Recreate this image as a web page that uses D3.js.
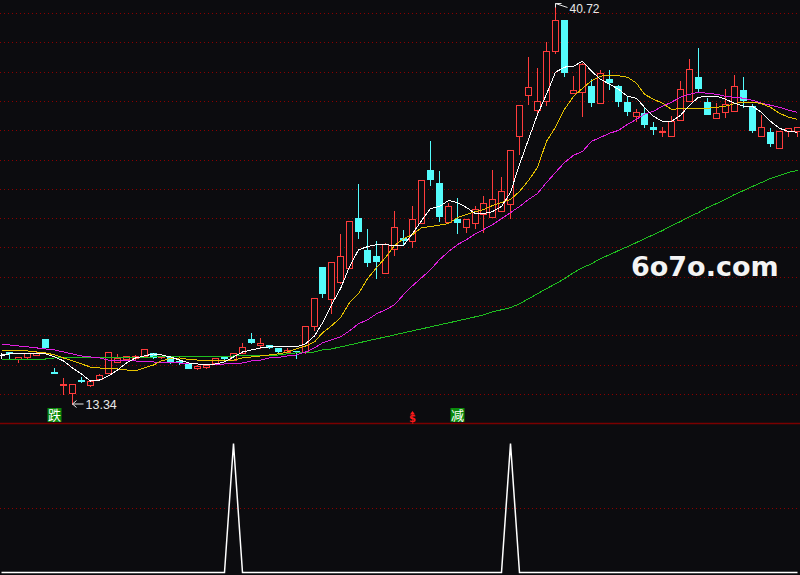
<!DOCTYPE html>
<meta charset="utf-8">
<head>
<title>K-line chart</title>
<script src="https://cdnjs.cloudflare.com/ajax/libs/d3/7.8.5/d3.min.js" charset="utf-8"></script>
<style type="text/css">
body {margin: 0; background: #0c0c0f;}
svg {display: block;}
</style>
</head>
<body>
<script>
// daily bars
var opens = [16.70,16.90,16.42,16.56,16.70,17.80,15.53,14.64,14.09,14.98,
  14.64,15.05,15.46,16.22,16.42,16.49,16.63,16.84,16.56,16.56,
  16.29,16.15,15.81,15.87,16.15,16.56,16.35,16.84,17.80,17.38,
  17.38,17.18,16.90,17.00,16.90,18.69,22.74,20.54,21.71,22.67,
  26.10,23.90,23.49,22.33,23.97,24.73,24.52,25.76,29.33,28.50,
  25.83,26.03,25.48,25.76,26.37,26.17,26.58,27.06,31.66,34.47,
  33.45,34.07,37.49,39.62,34.61,34.68,35.09,33.93,35.57,35.09,
  34.00,33.03,33.24,32.28,31.97,31.66,32.76,34.07,35.71,34.00,
  32.90,33.31,33.38,34.82,33.72,31.66,31.94,30.84,32.00,32.00];
var closes = [16.70,16.84,16.56,16.84,16.84,17.25,15.46,14.71,14.71,14.91,
  14.91,15.33,16.90,16.49,16.63,16.63,17.11,16.56,16.63,16.22,
  16.22,15.81,15.94,16.01,16.49,16.49,16.84,17.25,17.59,17.52,
  17.25,16.97,17.04,16.94,18.69,20.61,20.95,23.08,23.49,25.89,
  25.21,23.08,23.15,24.32,25.48,24.59,26.03,28.64,28.71,26.24,
  26.86,25.83,26.03,26.72,27.13,27.34,27.89,30.70,33.79,35.02,
  34.07,37.49,39.62,36.05,34.82,36.60,34.00,35.98,35.37,34.07,
  33.38,33.31,32.48,32.14,32.02,32.69,34.89,36.26,34.95,33.17,
  33.24,33.86,35.09,34.13,32.07,32.28,31.18,32.00,32.21,32.28];
var highs = [16.90,17.00,16.56,16.90,17.04,17.80,15.87,15.19,14.71,15.26,
  14.98,15.46,16.90,16.84,16.70,16.77,17.11,16.90,16.70,16.63,
  16.42,16.22,16.08,16.08,16.56,16.56,16.84,17.59,18.28,17.93,
  17.45,17.25,17.25,17.04,18.69,20.61,22.74,23.08,25.07,25.89,
  28.50,25.41,24.59,24.45,26.65,25.35,26.99,28.64,31.39,29.33,
  27.20,27.54,26.03,26.99,27.68,29.40,28.98,30.70,33.79,37.15,
  36.40,38.18,40.72,39.69,35.84,36.74,35.64,36.26,36.26,35.23,
  34.40,33.58,33.65,32.69,32.35,33.10,35.50,37.01,37.77,34.34,
  34.00,34.95,35.91,35.78,33.93,33.17,32.28,32.07,32.28,32.35];
var lows = [16.49,16.49,16.22,16.49,16.70,17.18,15.46,14.02,13.34,14.88,
  14.57,14.98,15.46,16.22,16.35,16.42,16.56,16.49,16.49,16.15,
  16.08,15.81,15.74,15.81,16.15,16.29,16.35,16.84,17.52,17.18,
  17.18,16.90,16.84,16.49,16.84,18.41,20.68,19.58,21.64,22.67,
  24.73,22.81,21.98,22.33,23.56,24.25,24.11,25.76,28.36,25.89,
  25.83,25.07,25.14,25.41,25.14,26.17,26.58,26.10,30.42,33.86,
  33.31,33.79,37.36,35.78,34.61,33.03,33.72,33.93,34.89,33.72,
  33.10,32.69,32.28,31.80,31.66,31.66,32.76,34.07,34.75,33.17,
  32.90,32.97,33.38,33.65,31.94,31.66,30.97,30.84,31.66,31.66];

// moving averages as drawn
var ma5 = [16.70,16.77,16.77,16.77,16.77,16.77,16.56,16.29,15.81,15.39,
  14.91,14.98,15.26,15.67,16.15,16.49,16.63,16.77,16.70,16.56,
  16.35,16.15,16.08,16.01,16.08,16.22,16.56,16.90,17.04,17.18,
  17.25,17.25,17.25,17.25,17.45,18.00,18.89,20.13,21.23,22.74,
  23.90,24.11,24.25,24.25,24.18,24.18,25.00,25.89,26.72,26.86,
  27.27,27.13,26.79,26.37,26.37,26.51,26.86,27.82,29.74,31.45,
  33.17,34.54,36.05,36.40,36.46,36.81,36.12,35.57,35.23,34.89,
  34.40,34.27,33.65,33.03,32.69,32.69,33.10,33.79,34.34,34.40,
  34.40,34.20,33.93,33.72,33.72,33.31,32.69,32.21,32.00,31.94];
var ma10 = [17.04,16.97,16.97,16.97,16.90,16.84,16.70,16.49,16.29,16.08,
  15.87,15.81,15.74,15.74,15.67,15.60,15.81,16.01,16.29,16.46,
  16.49,16.39,16.35,16.29,16.29,16.29,16.35,16.49,16.56,16.63,
  16.70,16.77,16.90,17.11,17.31,17.59,18.21,18.69,19.24,20.27,
  20.89,21.91,22.67,23.36,24.18,24.66,24.93,25.41,25.48,25.59,
  25.69,26.10,26.31,26.51,26.65,26.92,27.13,27.34,27.89,28.64,
  29.53,31.32,32.28,33.51,34.40,34.95,35.47,35.78,35.84,35.81,
  35.71,35.30,34.54,34.20,33.93,33.51,33.55,33.58,33.58,33.58,
  33.65,33.72,33.90,34.00,34.00,33.90,33.65,33.24,32.97,32.83];
var ma20 = [17.45,17.38,17.31,17.25,17.18,17.11,17.04,16.90,16.77,16.63,
  16.56,16.49,16.35,16.35,16.29,16.29,16.22,16.22,16.15,16.15,
  16.15,16.08,16.08,16.01,16.01,16.08,16.08,16.15,16.29,16.35,
  16.49,16.53,16.63,16.70,16.90,17.18,17.52,17.73,17.93,18.35,
  18.83,19.10,19.51,19.79,20.13,20.82,21.43,21.98,22.53,23.22,
  23.77,24.25,24.59,25.00,25.28,25.62,26.03,26.44,26.86,27.34,
  27.75,28.50,29.19,29.87,30.36,30.63,31.32,31.59,31.87,32.07,
  32.48,32.83,33.17,33.38,33.72,34.00,34.34,34.54,34.68,34.61,
  34.54,34.40,34.34,34.27,34.13,33.93,33.79,33.65,33.45,33.31];
var ma60 = [16.42,16.42,16.42,16.42,16.42,16.42,16.49,16.49,16.49,16.49,
  16.49,16.49,16.49,16.49,16.49,16.49,16.49,16.56,16.56,16.56,
  16.56,16.56,16.56,16.56,16.56,16.56,16.63,16.63,16.63,16.63,
  16.63,16.70,16.77,16.84,16.84,16.90,17.04,17.11,17.25,17.38,
  17.52,17.66,17.80,17.93,18.07,18.21,18.35,18.48,18.62,18.76,
  18.89,19.03,19.17,19.31,19.44,19.65,19.79,19.93,20.20,20.54,
  20.89,21.23,21.57,21.91,22.33,22.67,22.94,23.29,23.56,23.84,
  24.11,24.39,24.66,24.93,25.21,25.55,25.83,26.17,26.44,26.79,
  27.06,27.34,27.68,27.95,28.23,28.50,28.78,28.98,29.19,29.33];

// lower panel signal (0/1)
var signal = [0,0,0,0,0,0,0,0,0,0, 0,0,0,0,0,0,0,0,0,0,
  0,0,0,0,0,0,1,0,0,0, 0,0,0,0,0,0,0,0,0,0,
  0,0,0,0,0,0,0,0,0,0, 0,0,0,0,0,0,0,1,0,0,
  0,0,0,0,0,0,0,0,0,0, 0,0,0,0,0,0,0,0,0,0,
  0,0,0,0,0,0,0,0,0,0];

// text marks under the bars
var markIdx  = [6, 46, 51];
var markText = ["跌", "$", "减"];

// Parameters
var width = 800,
    height = 575,
    bg = "#0c0c0f",
    upColor = "#ff3c3c",
    downColor = "#54fcfc",
    gridColor = "#8b0000";

var svg = d3.select("body").append("svg")
  .attr("width", width)
  .attr("height", height)
  .style("background", bg);

var x = d3.scaleLinear().domain([0, opens.length - 1]).range([0.5, 796.5]);
var y = d3.scaleLinear().domain([13.34, 40.72]).range([404, 4]);
var ySig = d3.scaleLinear().domain([0, 1]).range([572, 443]);
var gridY = d3.scaleLinear().domain([0, 13]).range([13, 394]);

function px(i) { return Math.round(x(i)) + 0.5; }
function py(v) { return Math.round(y(v)) + 0.5; }

// dotted grid
svg.append("g").selectAll("line")
  .data(d3.range(14))
  .enter().append("line")
  .attr("x1", 0).attr("x2", width)
  .attr("y1", d => Math.round(gridY(d)) + 0.5)
  .attr("y2", d => Math.round(gridY(d)) + 0.5)
  .style("stroke", gridColor)
  .style("stroke-dasharray", "1,3");

svg.append("line")
  .attr("x1", 0).attr("x2", width)
  .attr("y1", Math.round(ySig(0.5)) + 0.5).attr("y2", Math.round(ySig(0.5)) + 0.5)
  .style("stroke", gridColor)
  .style("stroke-dasharray", "1,3");

// panel separator
svg.append("line")
  .attr("x1", 0).attr("x2", width)
  .attr("y1", 423.5).attr("y2", 423.5)
  .style("stroke", "#7a0000")
  .style("stroke-width", 1.5);

// watermark
svg.append("text")
  .attr("x", 631).attr("y", 276)
  .style("font-family", "DejaVu Sans")
  .style("font-weight", "bold")
  .style("font-size", "27px")
  .style("fill", "#f4f4f4")
  .text("6o7o.com");

// candles
var bars = d3.range(opens.length);
function colorOf(i) {
  if (closes[i] > opens[i]) return upColor;
  if (closes[i] < opens[i]) return downColor;
  return "#ffffff";
}

var candle = svg.append("g").attr("shape-rendering", "crispEdges")
  .selectAll("g").data(bars).enter().append("g");

candle.append("line")
  .attr("x1", px).attr("x2", px)
  .attr("y1", i => py(highs[i]))
  .attr("y2", i => py(lows[i]))
  .style("stroke", colorOf);

candle.append("rect")
  .attr("x", i => Math.round(x(i)) - 2.5)
  .attr("y", i => py(Math.max(opens[i], closes[i])))
  .attr("width", 6)
  .attr("height", i => Math.max(0.01, py(Math.min(opens[i], closes[i])) - py(Math.max(opens[i], closes[i]))))
  .style("stroke", colorOf)
  .style("fill", i => closes[i] > opens[i] ? bg : colorOf(i));

// moving averages
var line = d3.line().x((d, i) => px(i)).y(d => y(d));
[[ma60, "#1fbf1f"], [ma20, "#e01ee0"], [ma10, "#e6c200"], [ma5, "#ffffff"]].forEach(function(s) {
  svg.append("path")
    .datum(s[0])
    .attr("d", line)
    .attr("shape-rendering", "crispEdges")
    .style("fill", "none")
    .style("stroke", s[1])
    .style("stroke-width", 1);
});

// high / low notes
var hi = d3.maxIndex(highs), lo = d3.minIndex(lows);
var hx = px(hi), hy = py(highs[hi]) - 1;
svg.append("path")
  .attr("d", "M" + (hx + 6) + "," + hy + "H" + hx + "V" + (hy + 4) + "M" + hx + "," + hy + "L" + (hx + 12) + "," + (hy + 4))
  .style("fill", "none").style("stroke", "#e8e8e8");
svg.append("text")
  .attr("x", hx + 14).attr("y", hy + 9)
  .style("font-family", "Liberation Sans, Arial")
  .style("font-size", "12px")
  .style("fill", "#e8e8e8")
  .text(highs[hi].toFixed(2));

var lx = px(lo), ly = py(lows[lo]) - 0.5;
svg.append("path")
  .attr("d", "M" + (lx + 4) + "," + (ly - 3.5) + "L" + lx + "," + ly + "L" + (lx + 4) + "," + (ly + 3.5) + "M" + lx + "," + ly + "H" + (lx + 11))
  .style("fill", "none").style("stroke", "#e8e8e8");
svg.append("text")
  .attr("x", lx + 13).attr("y", ly + 5)
  .style("font-family", "Liberation Sans, Arial")
  .style("font-size", "12.5px")
  .style("fill", "#e8e8e8")
  .text(lows[lo].toFixed(2));

// marks
markIdx.forEach(function(i, k) {
  var cx = Math.round(x(i)) + 0.5;
  if (markText[k] === "$") {
    svg.append("path")
      .attr("d", "M" + (cx - 2.5) + ",414.5L" + cx + ",411L" + (cx + 2.5) + ",414.5Z")
      .style("fill", "#ff1a1a");
    svg.append("text")
      .attr("x", cx).attr("y", 421.5)
      .attr("text-anchor", "middle")
      .style("font-family", "DejaVu Sans")
      .style("font-weight", "bold")
      .style("font-size", "10px")
      .style("fill", "#ff1a1a")
      .text("$");
  } else {
    svg.append("rect")
      .attr("x", cx - 7).attr("y", 408)
      .attr("width", 14).attr("height", 14)
      .style("fill", "#0a8a0a");
    svg.append("text")
      .attr("x", cx).attr("y", 419.5)
      .attr("text-anchor", "middle")
      .style("font-family", "Noto Sans CJK SC")
      .style("font-size", "13px")
      .style("fill", "#ffffff")
      .text(markText[k]);
  }
});

// lower panel
svg.append("path")
  .datum(signal)
  .attr("d", d3.line().x((d, i) => px(i)).y(d => Math.round(ySig(d)) + 0.5))
  .style("fill", "none")
  .style("stroke", "#ffffff")
  .style("stroke-width", 1.5);

</script>
<body>
